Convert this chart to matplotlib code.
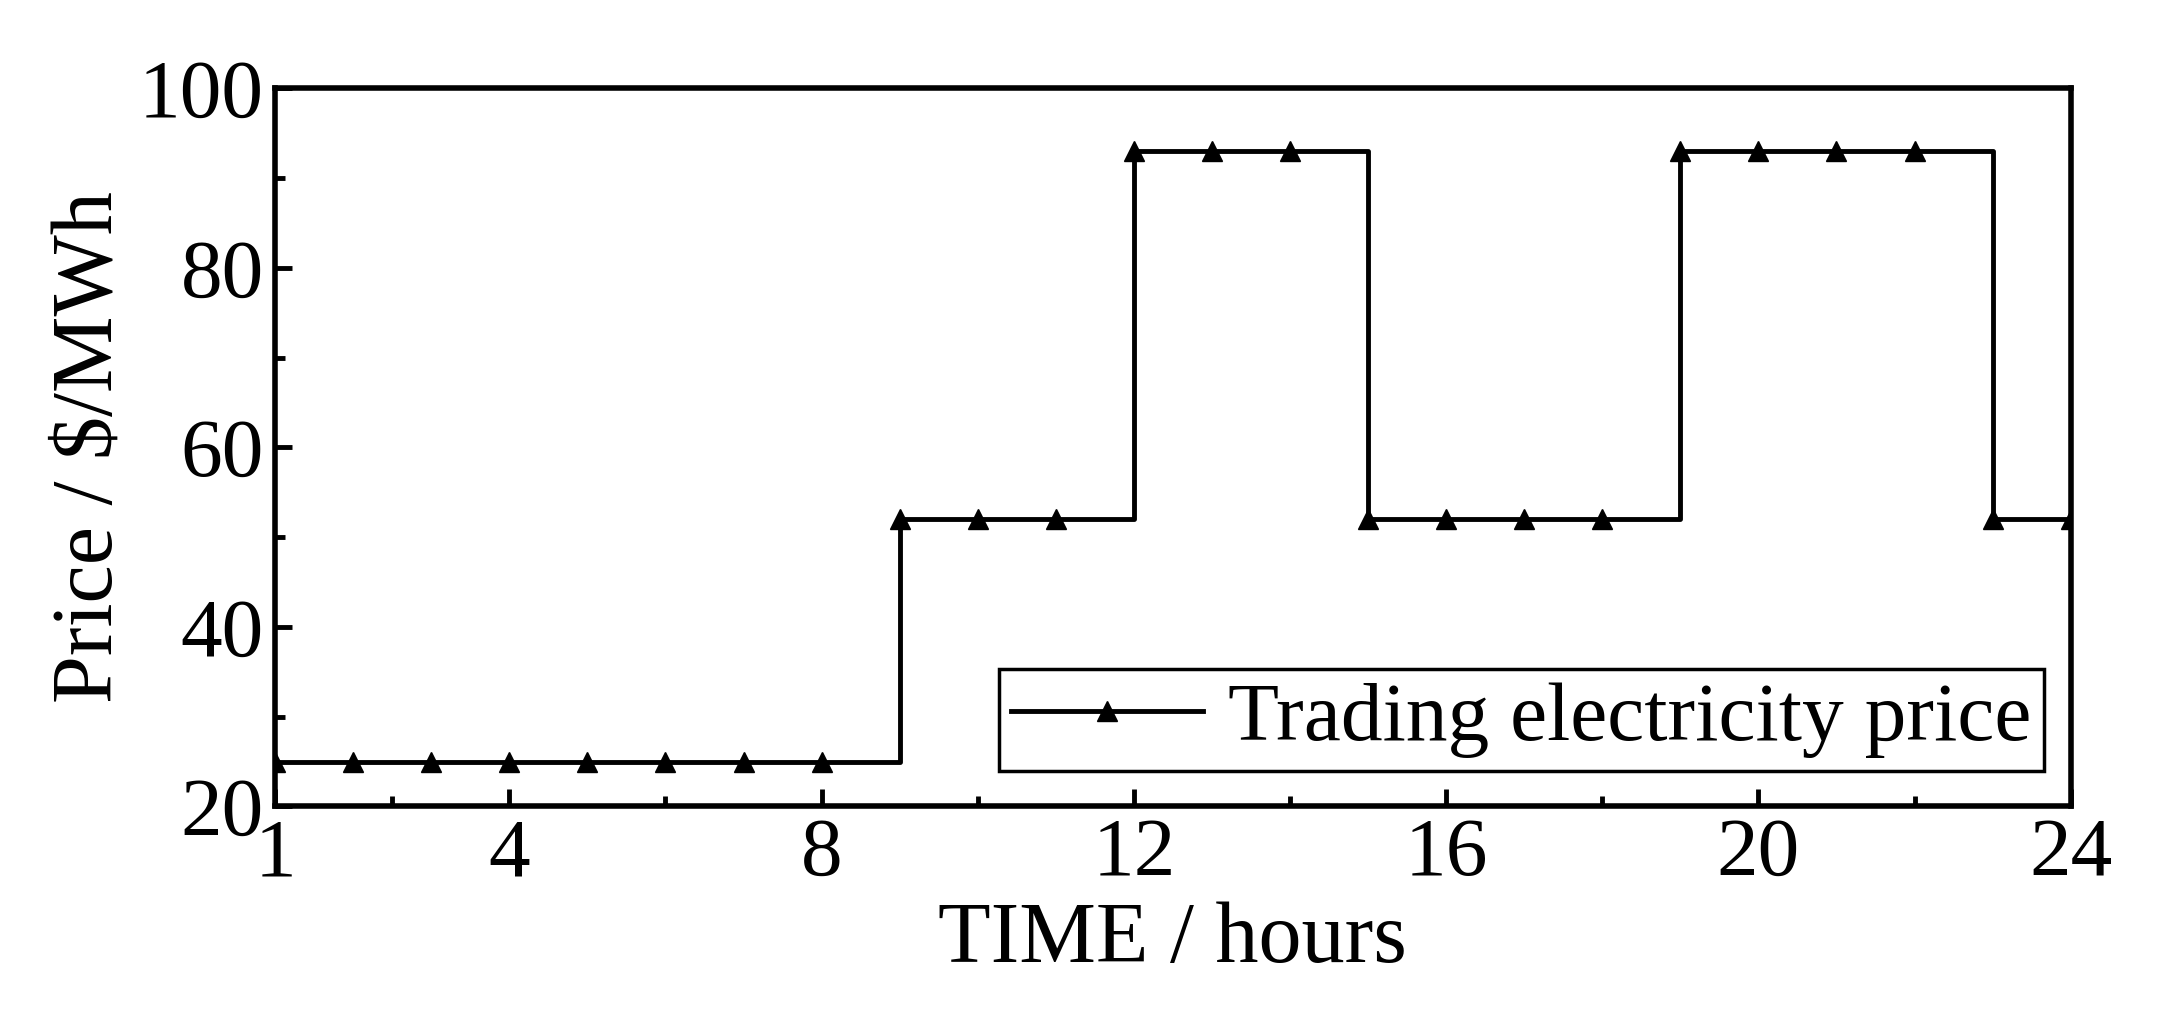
import matplotlib
matplotlib.use("Agg")
import matplotlib.pyplot as plt
from matplotlib.ticker import FixedLocator

hours = list(range(1, 25))
price = [25]*8 + [52]*3 + [93]*3 + [52]*4 + [93]*4 + [52]*2
xticks = [1, 4, 8, 12, 16, 20, 24]
xminor = [2.5, 6, 10, 14, 18, 22]
yticks = [20, 40, 60, 80, 100]
yminor = [30, 50, 70, 90]

plt.rcParams['font.family'] = ['Liberation Serif', 'DejaVu Serif']
fig = plt.figure(figsize=(21.66, 10.26), dpi=100)
ax = fig.add_axes([0.127, 0.214, 0.829, 0.700])
ax.plot(hours, price, drawstyle='steps-post', color='black', lw=3.5,
        marker='^', markersize=14, label='Trading electricity price')
ax.set_xlim(1, 24)
ax.set_ylim(20, 100)
ax.set_xticks(xticks)
ax.set_yticks(yticks)
ax.xaxis.set_minor_locator(FixedLocator(xminor))
ax.yaxis.set_minor_locator(FixedLocator(yminor))
ax.tick_params(which='both', direction='in', labelsize=60, width=3.5, pad=8)
ax.tick_params(which='major', length=12)
ax.tick_params(which='minor', length=7)
for s in ax.spines.values():
    s.set_linewidth(4)
ax.set_xlabel('TIME / hours', fontsize=62, labelpad=6)
ax.set_ylabel('Price / $/MWh', fontsize=62, labelpad=6)
leg = ax.legend(loc='lower right', fontsize=60, fancybox=False, edgecolor='black',
                handlelength=2.3, borderpad=0.15, handletextpad=0.3,
                borderaxespad=0, bbox_to_anchor=(0.985, 0.05))
leg.get_frame().set_linewidth(2.5)
leg.get_frame().set_alpha(1)
fig.savefig('out.png', dpi=100)
